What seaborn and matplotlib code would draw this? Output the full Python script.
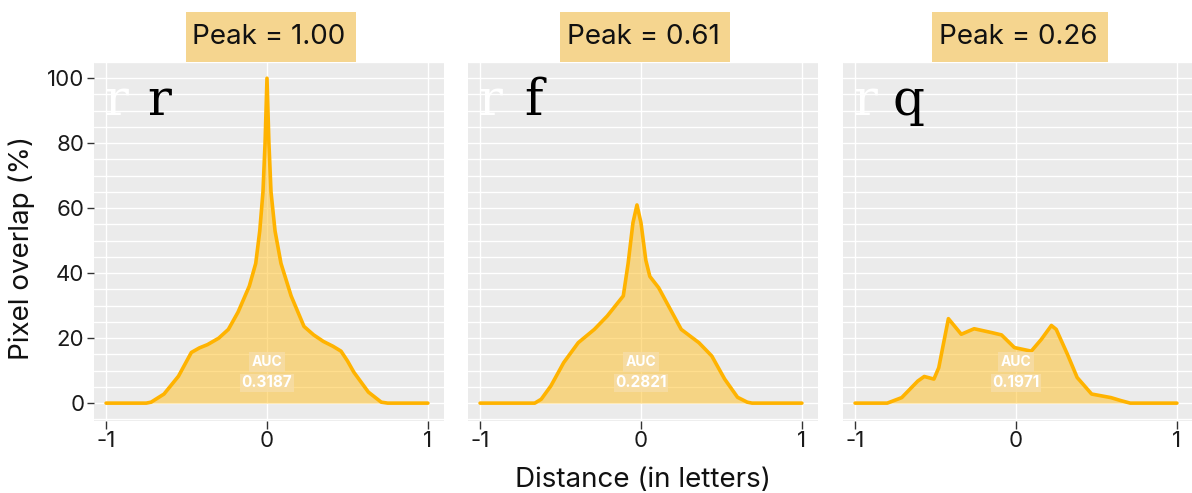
import numpy as np
import pandas as pd
import matplotlib
matplotlib.use("Agg")
import matplotlib.pyplot as plt
from matplotlib.ticker import MultipleLocator
from matplotlib.patches import Rectangle
import seaborn as sns

# ---- data ----
panels = ["rr", "rf", "rq"]
peaks = ["1.00", "0.61", "0.26"]
aucs = ["0.3187", "0.2821", "0.1971"]

x_rr = [-1, -0.75, -0.72, -0.64, -0.55, -0.47, -0.42, -0.37, -0.30, -0.24, -0.18, -0.11, -0.07,
        -0.045, -0.025, -0.012, 0, 0.012, 0.025, 0.05, 0.087, 0.15, 0.23, 0.29, 0.35, 0.41,
        0.46, 0.50, 0.54, 0.63, 0.71, 0.75, 1]
y_rr = [0, 0, 0.3, 2.8, 8.3, 15.6, 17, 18, 20, 22.7, 28, 36, 43,
        53, 65, 80, 100, 80, 65, 53, 43, 33, 23.6, 21, 19, 17.5,
        16, 13, 9.5, 3.4, 0.3, 0, 0]

x_rf = [-1, -0.66, -0.62, -0.56, -0.48, -0.39, -0.29, -0.21, -0.11, -0.08, -0.05, -0.025, 0,
        0.03, 0.055, 0.11, 0.17, 0.25, 0.36, 0.44, 0.52, 0.60, 0.66, 0.69, 1]
y_rf = [0, 0, 1.2, 5.3, 12.5, 18.6, 22.7, 26.8, 33, 43, 55.5, 61, 55.5,
        44, 39, 35.5, 30, 22.7, 18.6, 14.5, 7.4, 1.8, 0.3, 0, 0]

x_rq = [-1, -0.8, -0.71, -0.61, -0.57, -0.51, -0.48, -0.42, -0.39, -0.34, -0.26, -0.15, -0.09,
        -0.01, 0.095, 0.157, 0.22, 0.25, 0.32, 0.38, 0.47, 0.59, 0.65, 0.71, 1]
y_rq = [0, 0, 1.7, 6.8, 8.2, 7.4, 10.9, 26, 24.2, 21.2, 22.9, 21.7, 21,
        17.1, 16, 19.6, 23.9, 22.7, 15, 7.9, 2.8, 1.7, 0.8, 0, 0]

xs = [x_rr, x_rf, x_rq]
ys = [y_rr, y_rf, y_rq]

x_ticks = [-1, 0, 1]
x_tick_labels = ["-1", "0", "1"]
y_ticks = [0, 20, 40, 60, 80, 100]

# ---- style ----
sns.set_theme(style="darkgrid", rc={"axes.facecolor": "#EBEBEB", "grid.color": "white",
                                    "figure.facecolor": "white"})
plt.rcParams["font.family"] = ["Inter", "DejaVu Sans"]

LINE = "#FFB300"
FILL = "#FFBE1E"
BOX = "#F5D58F"

fig = plt.figure(figsize=(11.92, 4.93), dpi=100)
W, H = 1192, 493
lefts = [94, 468, 843]
pw = 350
top, bottom = 62, 421
ph = bottom - top

titles = []
axes = []
for i, name in enumerate(panels):
    ax = fig.add_axes([lefts[i] / W, 1 - bottom / H, pw / W, ph / H])
    axes.append(ax)
    df = pd.DataFrame({"x": xs[i], "y": ys[i]})
    ax.fill_between(df["x"], df["y"], 0, color=FILL, alpha=0.5, lw=0, zorder=2)
    sns.lineplot(data=df, x="x", y="y", ax=ax, color=LINE, lw=2.6, zorder=3)
    ax.set_xlim(-1.075, 1.1)
    ax.set_ylim(-5.5, 105)
    ax.set_xticks(x_ticks)
    ax.set_xticklabels(x_tick_labels)
    ax.set_yticks(y_ticks)
    ax.yaxis.set_minor_locator(MultipleLocator(5))
    ax.grid(which="major", axis="x", color="white", lw=1.0)
    ax.grid(which="major", axis="y", color="white", lw=1.0)
    ax.grid(which="minor", axis="y", color="white", lw=1.0)
    ax.grid(which="minor", axis="x", visible=False)
    ax.set_xlabel("")
    ax.set_ylabel("")
    for s in ax.spines.values():
        s.set_visible(False)
    ax.tick_params(axis="x", which="major", bottom=True, length=5.5, width=1, color="#333333",
                   pad=2, labelsize=16, labelcolor="#1a1a1a")
    ax.tick_params(which="minor", length=0)
    if i == 0:
        ax.tick_params(axis="y", which="major", left=True, length=5, width=1, color="#333333",
                       pad=2, labelsize=16, labelcolor="#1a1a1a")
    else:
        ax.tick_params(axis="y", which="major", left=False, labelleft=False)

    # title text (box added after measuring)
    t = ax.text(0.5, 1 + 25 / ph, f"Peak = {peaks[i]}", transform=ax.transAxes,
                ha="center", va="center", fontsize=20, color="#111111", zorder=6, clip_on=False)
    titles.append(t)

    # letters
    ax.text(-0.94, 88.6, name[0], family="DejaVu Serif", fontsize=36, color="white",
            ha="center", va="baseline", zorder=4)
    ax.text(-0.67, 88.6, name[1], family="DejaVu Serif", fontsize=36, color="black",
            ha="center", va="baseline", zorder=4)

    # AUC labels
    ax.text(0.0, 12.6, "AUC", fontsize=10, color="white", fontweight="bold",
            ha="center", va="center", zorder=5,
            bbox=dict(boxstyle="square,pad=0.22", fc="#F7DDA6", alpha=0.85, ec="none"))
    ax.text(0.0, 6.2, aucs[i], fontsize=11, color="white", fontweight="bold",
            ha="center", va="center", zorder=5,
            bbox=dict(boxstyle="square,pad=0.08", fc="#F7DDA6", alpha=0.85, ec="none"))

# title boxes sized from text
fig.canvas.draw()
r = fig.canvas.get_renderer()
for ax, t in zip(axes, titles):
    bb = t.get_window_extent(renderer=r)
    wpx = bb.width + 17
    fx = wpx / pw
    ax.add_patch(Rectangle((0.5 - fx / 2 + 0.005, 1.0), fx, 50 / ph, transform=ax.transAxes,
                           fc=BOX, ec="none", clip_on=False, zorder=5))

fig.text(643 / W, 1 - 480 / H, "Distance (in letters)", ha="center", va="center",
         fontsize=20, color="#111111")
fig.text(22 / W, 1 - 248 / H, "Pixel overlap (%)", ha="center", va="center",
         rotation=90, fontsize=20, color="#111111")

fig.savefig("out.png", dpi=100)
